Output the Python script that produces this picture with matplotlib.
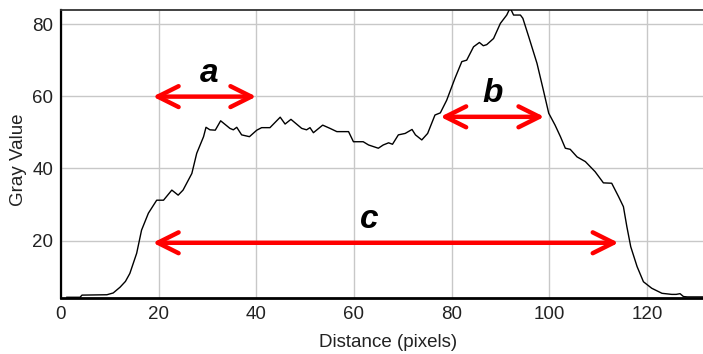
import matplotlib
matplotlib.use("Agg")
import matplotlib.pyplot as plt

# profile (distance in pixels, gray value)
dist = [1.2, 3.9, 4.3, 9.4, 10.7, 12.1, 13.2, 14.1, 15.5, 16.5, 17.9,
        19.6, 21.0, 22.7, 24.0, 25.0, 26.8, 27.8, 29.2, 29.7, 30.5,
        31.6, 32.7, 34.6, 35.3, 36.0, 37.0, 38.6, 40.1, 41.1, 42.8,
        44.9, 45.9, 47.1, 49.3, 50.3, 51.0, 51.7, 53.6, 55.1, 56.5,
        58.9, 59.9, 61.9, 63.0, 65.0, 66.0, 67.1, 67.9, 69.1, 70.5,
        71.9, 72.6, 73.9, 75.1, 76.6, 77.7, 79.0, 80.7, 82.1, 83.1,
        84.5, 85.7, 86.5, 87.2, 88.6, 90.0, 91.3, 92.0, 92.7, 94.1,
        94.6, 95.8, 97.5, 98.8, 99.9, 101.2, 102.3, 103.3, 104.3, 105.7,
        107.4, 109.4, 111.1, 112.8, 114.2, 115.2, 115.9, 116.7, 118.0, 119.3,
        121.0, 123.1, 125.1, 126.0, 126.8, 127.5, 128.3, 131.5]
gray = [4.3, 4.3, 4.9, 5.0, 5.5, 7.1, 8.7, 10.9, 16.5, 22.9, 27.6,
        31.2, 31.2, 34.0, 32.6, 34.0, 38.6, 44.2, 48.8, 51.4, 50.7,
        50.6, 53.2, 51.1, 50.7, 51.4, 49.3, 48.8, 50.6, 51.3, 51.3,
        54.2, 52.3, 53.6, 51.1, 50.7, 51.3, 49.9, 52.0, 51.1, 50.2,
        50.2, 47.4, 47.4, 46.5, 45.6, 46.5, 47.1, 46.7, 49.3, 49.7,
        50.8, 49.3, 47.9, 49.7, 54.8, 55.4, 58.9, 65.0, 69.6, 70.0,
        73.7, 74.9, 74.0, 74.3, 76.0, 80.2, 82.5, 84.5, 82.5, 82.5,
        81.6, 76.5, 69.1, 61.7, 55.3, 52.0, 48.8, 45.6, 45.3, 43.2,
        41.9, 39.1, 36.0, 35.9, 32.2, 29.4, 23.9, 18.3, 12.8, 8.6,
        6.8, 5.4, 5.1, 5.1, 5.3, 4.5, 4.4, 4.4]

x_ticks = [0, 20, 40, 60, 80, 100, 120]
y_ticks = [20, 40, 60, 80]

# annotation arrows: (label, x_start, x_end, y, label_x, label_y)
arrow_names = ["a", "b", "c"]
arrow_x0 = [18.8, 77.7, 18.8]
arrow_x1 = [40.0, 99.0, 114.2]
arrow_y = [59.9, 54.3, 19.4]
label_x = [30.3, 88.5, 63.1]
label_y = [63.9, 58.5, 23.4]

plt.rcParams["font.family"] = ["Liberation Sans", "DejaVu Sans"]

fig = plt.figure(figsize=(7.03, 3.54), dpi=100)
ax = fig.add_axes([61 / 703, 56 / 354, 642 / 703, 288 / 354])

ax.plot(dist, gray, color="black", lw=1.0, zorder=3)

ax.set_xlim(0, 131.5)
ax.set_ylim(4.1, 83.9)
ax.set_xticks(x_ticks)
ax.set_yticks(y_ticks)
ax.grid(True, color="#c8c8c8", lw=1.0)
ax.set_axisbelow(True)
ax.tick_params(axis="both", length=0, labelsize=13.5, colors="#222222")
ax.tick_params(axis="x", pad=6)
ax.tick_params(axis="y", pad=5.5)

ax.spines["right"].set_visible(False)
ax.spines["left"].set_linewidth(1.6)
ax.spines["bottom"].set_linewidth(2.0)
ax.spines["top"].set_linewidth(1.3)
ax.spines["top"].set_color("#333333")

fig.text(388 / 703, 1 - 346.7 / 354, "Distance (pixels)", ha="center",
         va="baseline", fontsize=13.5, color="#222222")
fig.text(19 / 703, 1 - 160 / 354, "Gray Value", ha="center", va="center",
         rotation=90, fontsize=13.5, color="#222222")

for name, x0, x1, y, lx, ly in zip(arrow_names, arrow_x0, arrow_x1, arrow_y,
                                    label_x, label_y):
    ax.annotate("", xy=(x1, y), xytext=(x0, y),
                arrowprops=dict(arrowstyle="<->, head_length=1.5, head_width=0.75",
                                color="#ff0000", lw=3.2, mutation_scale=10,
                                shrinkA=0, shrinkB=0), zorder=4)
    ax.text(lx, ly, name, ha="center", va="baseline", fontsize=24,
            fontweight="bold", fontstyle="italic", color="black", zorder=5)

fig.savefig("out.png", dpi=100)
